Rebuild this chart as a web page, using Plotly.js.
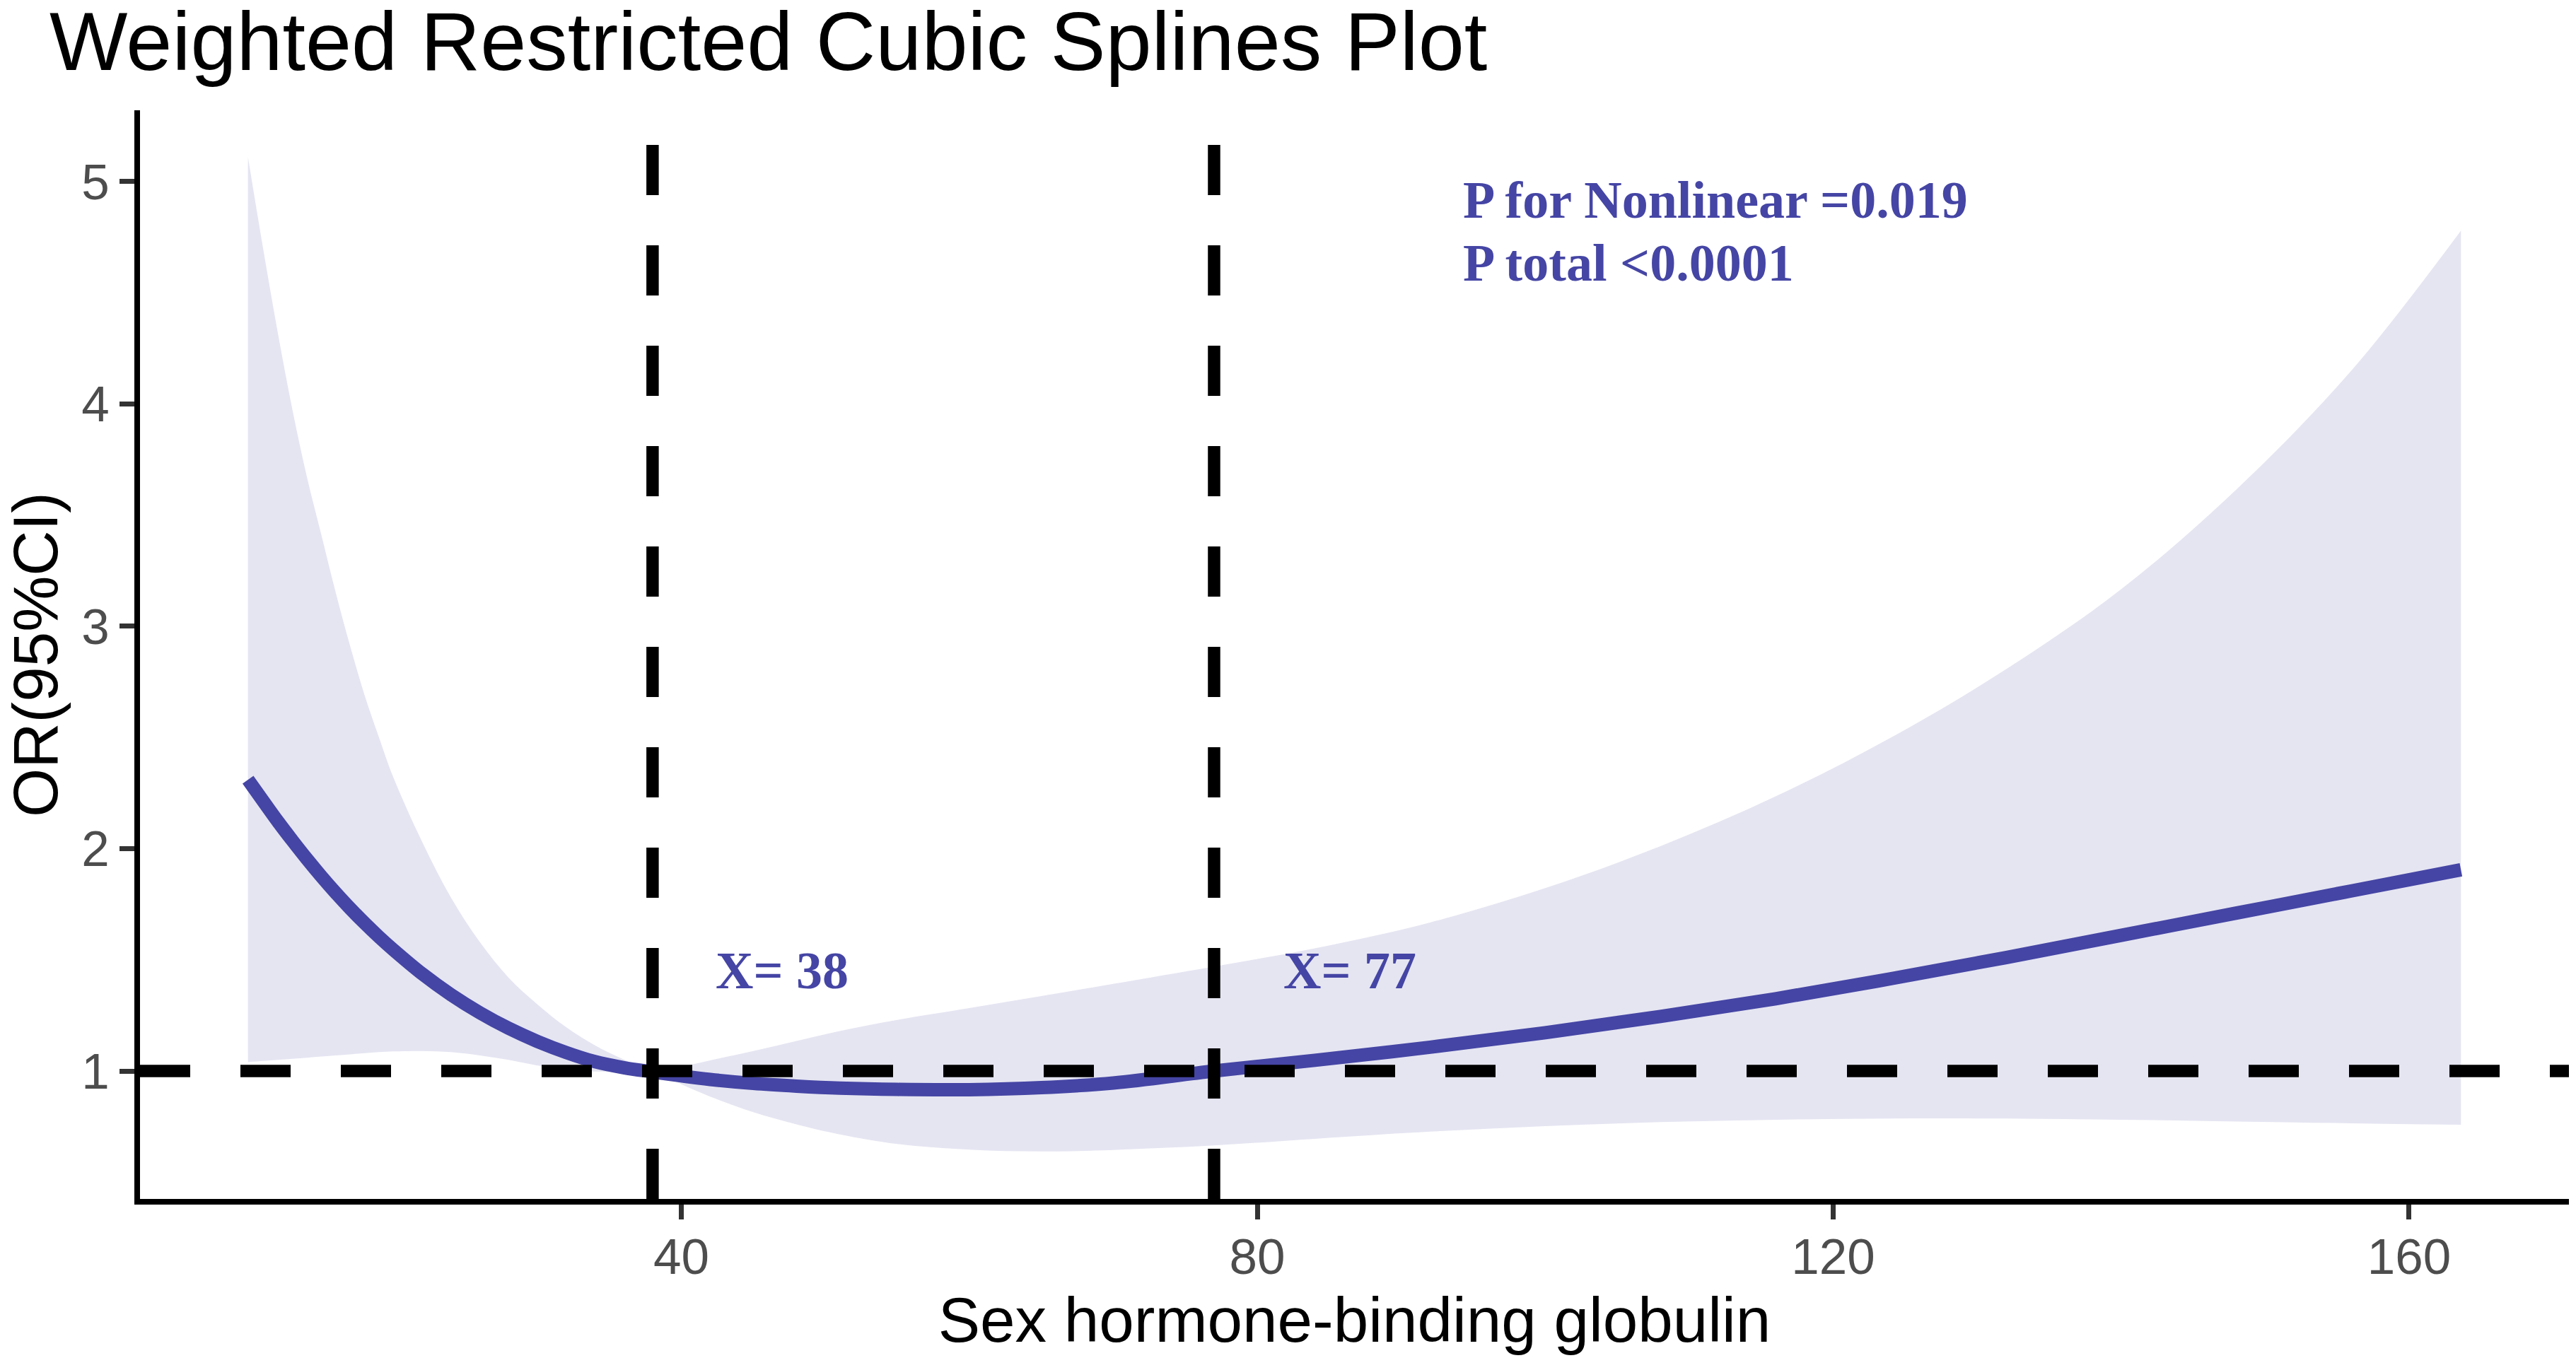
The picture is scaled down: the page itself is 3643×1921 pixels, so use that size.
<!DOCTYPE html>
<html>
<head>
<meta charset="utf-8">
<script src="https://cdn.plot.ly/plotly-3.0.1.min.js"></script>
<style>
  html, body { margin: 0; padding: 0; background: #ffffff; }
  #rcsPlot { width: 3643px; height: 1921px; }
</style>
</head>
<body>
<div id="rcsPlot"></div>
<script>
const shbg = [9.9, 11, 12, 13, 14, 15, 16, 17, 18, 19, 20,
  22, 24, 26, 28, 30, 32, 34, 36, 38,
  40, 42, 45, 48, 51, 55, 60, 65, 70, 77,
  84, 92, 100, 108, 116, 124, 132, 140, 148, 156, 163.6];

// fitted odds ratio
const orFit = [2.31, 2.21, 2.12, 2.035, 1.953, 1.875, 1.801, 1.731, 1.665, 1.603, 1.545,
  1.437, 1.343, 1.262, 1.192, 1.133, 1.083, 1.042, 1.015, 0.996,
  0.978, 0.962, 0.944, 0.932, 0.923, 0.917, 0.916, 0.925, 0.946, 1.0,
  1.048, 1.107, 1.172, 1.245, 1.325, 1.415, 1.51, 1.61, 1.71, 1.81, 1.905];

// 95% CI bounds
const orUpper = [5.11, 4.68, 4.31, 3.97, 3.67, 3.41, 3.15, 2.91, 2.69, 2.50, 2.32,
  2.03, 1.78, 1.58, 1.42, 1.30, 1.197, 1.115, 1.052, 1.0,
  1.02, 1.048, 1.09, 1.135, 1.18, 1.23, 1.283, 1.337, 1.392, 1.47,
  1.552, 1.668, 1.823, 2.011, 2.235, 2.499, 2.807, 3.167, 3.615, 4.151, 4.78];

const orLower = [1.04, 1.045, 1.05, 1.055, 1.06, 1.065, 1.07, 1.075, 1.08, 1.085, 1.088,
  1.09, 1.085, 1.07, 1.05, 1.025, 1.005, 0.998, 0.997, 1.0,
  0.94, 0.885, 0.815, 0.76, 0.715, 0.672, 0.646, 0.638, 0.645, 0.665,
  0.695, 0.727, 0.752, 0.77, 0.781, 0.786, 0.786, 0.781, 0.773, 0.765, 0.758];

// cut points and labels
const cutPoints = [38, 77];
const cutLabels = ['X= 38', 'X= 77'];
const pLabels = ['P for Nonlinear =0.019', 'P total <0.0001'];
const xTicks = [40, 80, 120, 160];
const yTicks = [1, 2, 3, 4, 5];

const blue = '#4545A5';
const sans = 'Liberation Sans, Arial, Helvetica, sans-serif';
const serif = 'Liberation Serif, Times New Roman, serif';

const traces = [
  {
    x: shbg, y: orLower, mode: 'lines',
    line: {width: 0, shape: 'spline', smoothing: 1},
    hoverinfo: 'skip'
  },
  {
    x: shbg, y: orUpper, mode: 'lines', fill: 'tonexty',
    fillcolor: '#E5E5F2',
    line: {width: 0, shape: 'spline', smoothing: 1},
    hoverinfo: 'skip'
  },
  {
    x: shbg, y: orFit, mode: 'lines',
    line: {color: blue, width: 19, shape: 'spline', smoothing: 1}
  }
];

const dashed = {color: 'black', width: 17.5, dash: '71px,71px'};

let shapes = cutPoints.map(c => ({
  type: 'line', xref: 'x', yref: 'paper',
  x0: c, x1: c, y0: 0, y1: 1, line: dashed, layer: 'above'
}));
shapes.push({
  type: 'line', xref: 'paper', yref: 'y',
  x0: 0, x1: 1, y0: 1, y1: 1, line: dashed, layer: 'above'
});

const labelFont = {family: serif, size: 74, color: blue, weight: 'bold'};

let annotations = [
  {x: cutPoints[0] + 4.3, y: 1.45, text: cutLabels[0]},
  {x: cutPoints[1] + 4.7, y: 1.45, text: cutLabels[1]},
  {x: 94.2, y: 4.917, text: pLabels[0]},
  {x: 94.2, y: 4.634, text: pLabels[1]},
].map(a => Object.assign(a, {
  xref: 'x', yref: 'y', showarrow: false,
  xanchor: 'left', yanchor: 'middle', font: labelFont
}));

const layout = {
  width: 3643,
  height: 1921,
  margin: {l: 198, r: 10, t: 156, b: 225},
  paper_bgcolor: '#ffffff',
  plot_bgcolor: '#ffffff',
  showlegend: false,
  title: {
    text: 'Weighted Restricted Cubic Splines Plot',
    x: 70 / 3643, xanchor: 'left',
    y: 1 - 58 / 1921, yanchor: 'middle',
    font: {family: sans, size: 117, color: 'black'}
  },
  xaxis: {
    range: [2.4, 171.1],
    tickvals: xTicks,
    ticks: 'outside', ticklen: 21, tickwidth: 7, tickcolor: '#333333',
    ticklabelstandoff: -8,
    showline: true, linecolor: 'black', linewidth: 8,
    showgrid: false, zeroline: false,
    tickfont: {family: sans, size: 71, color: '#4D4D4D'},
    title: {text: 'Sex hormone-binding globulin', standoff: 22,
      font: {family: sans, size: 89, color: 'black'}}
  },
  yaxis: {
    range: [0.4245, 5.321],
    tickvals: yTicks,
    ticks: 'outside', ticklen: 21, tickwidth: 7, tickcolor: '#333333',
    showline: true, linecolor: 'black', linewidth: 8,
    showgrid: false, zeroline: false,
    tickfont: {family: sans, size: 71, color: '#4D4D4D'},
    title: {text: 'OR(95%CI)', standoff: 25,
      font: {family: sans, size: 89, color: 'black'}}
  },
  shapes: shapes,
  annotations: annotations
};

Plotly.newPlot('rcsPlot', traces, layout, {staticPlot: true, displayModeBar: false});
</script>
</body>
</html>
